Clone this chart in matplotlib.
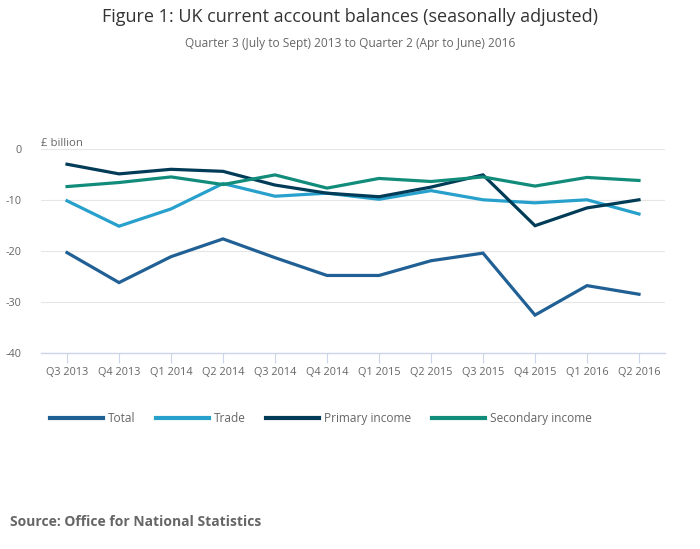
import matplotlib.pyplot as plt

plt.rcParams['font.family'] = ['Open Sans', 'DejaVu Sans']

# 數據 (£ billion)
quarters = ["Q3 2013", "Q4 2013", "Q1 2014", "Q2 2014", "Q3 2014", "Q4 2014",
            "Q1 2015", "Q2 2015", "Q3 2015", "Q4 2015", "Q1 2016", "Q2 2016"]
total = [-20.3, -26.2, -21.1, -17.6, -21.3, -24.8, -24.8, -21.9, -20.4, -32.6, -26.8, -28.5]
trade = [-10.1, -15.1, -11.7, -6.7, -9.2, -8.6, -9.8, -8.1, -9.9, -10.5, -9.9, -12.7]
primary = [-2.9, -4.8, -3.9, -4.3, -7.0, -8.6, -9.3, -7.4, -5.0, -15.0, -11.5, -9.9]
secondary = [-7.3, -6.5, -5.4, -6.9, -5.0, -7.6, -5.7, -6.3, -5.4, -7.2, -5.5, -6.1]

names = ["Total", "Trade", "Primary income", "Secondary income"]
colors = ["#206095", "#27a0cc", "#003c57", "#118c7b"]

fig = plt.figure(figsize=(7, 5.49), dpi=100)
ax = fig.add_axes([0.0586, 0.3576, 0.8914, 0.3701])

x = list(range(len(quarters)))
for ys, nm, c in zip([total, trade, primary, secondary], names, colors):
    ax.plot(x, ys, color=c, linewidth=2.3, label=nm, solid_joinstyle='miter')

ax.set_xlim(-0.5, len(quarters) - 0.5)
ax.set_ylim(-40, 0)
ax.set_yticks([0, -10, -20, -30, -40])
ax.set_yticklabels(["0", "-10", "-20", "-30", "-40"])
ax.set_xticks(x)
ax.set_xticklabels(quarters)
ax.grid(axis='y', color='#e6e6e6', linewidth=0.8)
ax.set_axisbelow(True)
for s in ['top', 'right', 'left']:
    ax.spines[s].set_visible(False)
ax.spines['bottom'].set_color('#ccd6eb')
ax.spines['bottom'].set_linewidth(1.0)
ax.tick_params(axis='x', colors='#ccd6eb', labelcolor='#666666', length=7,
               width=0.8, labelsize=7.8, pad=3)
ax.tick_params(axis='y', length=0, labelcolor='#666666', labelsize=7.8, pad=14)

ax.text(0.0, 1.0, "£ billion", transform=ax.transAxes, fontsize=8.2,
        color='#666666', ha='left', va='bottom')

fig.text(0.5, 0.969, "Figure 1: UK current account balances (seasonally adjusted)",
         ha='center', va='center', fontsize=13, color='#333333')
fig.text(0.5, 0.921, "Quarter 3 (July to Sept) 2013 to Quarter 2 (Apr to June) 2016",
         ha='center', va='center', fontsize=8.6, color='#666666')

leg = fig.legend(loc='center left', bbox_to_anchor=(0.063, 0.238), ncol=4,
                 frameon=False, fontsize=8.6, handlelength=4.4, handletextpad=0.42,
                 columnspacing=1.75, borderpad=0)
for t in leg.get_texts():
    t.set_color('#666666')
for h in leg.legend_handles:
    h.set_linewidth(3)

fig.text(0.014, 0.049, "Source: Office for National Statistics", ha='left',
         va='center', fontsize=10, fontweight='bold', color='#666666')

plt.savefig("out.png", dpi=100)
